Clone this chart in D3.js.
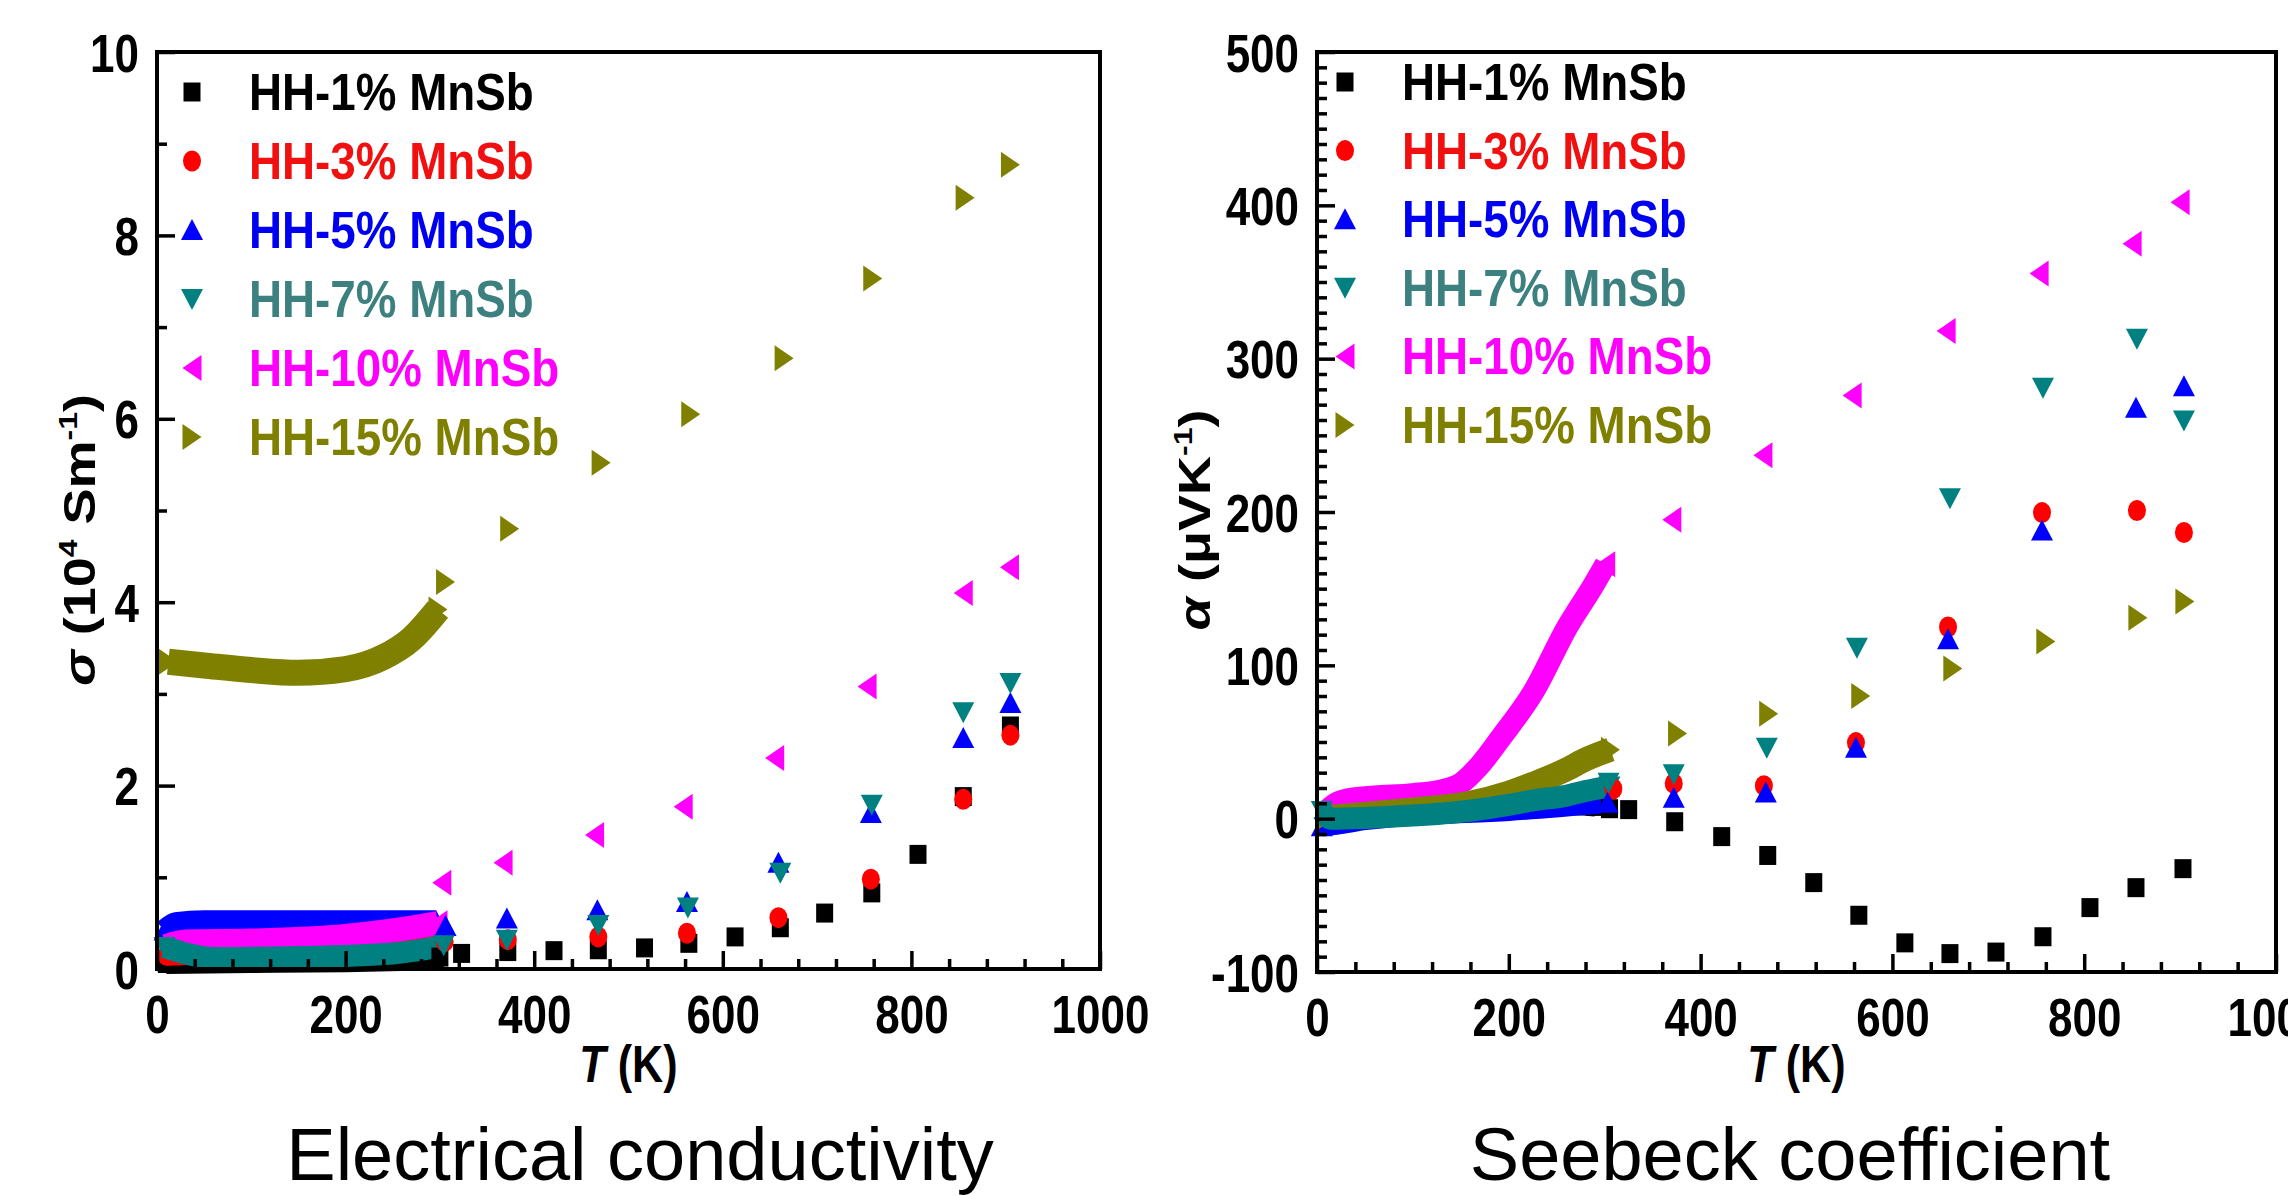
<!DOCTYPE html>
<html>
<head>
<meta charset="utf-8">
<script src="https://cdn.jsdelivr.net/npm/d3@7"></script>
<style>
  body { margin: 0; background: #fff; }
  svg { display: block; }
  text { font-family: "Liberation Sans", Arial, sans-serif; }
</style>
</head>
<body>
<svg width="2288" height="1196"></svg>
<script>
const seriesNames = ['HH-1% MnSb', 'HH-3% MnSb', 'HH-5% MnSb', 'HH-7% MnSb', 'HH-10% MnSb', 'HH-15% MnSb'];
const seriesColors = ['#000000', '#ff0000', '#0000ff', '#008080', '#ff00ff', '#808000'];
const legendTextColors = ['#000000', '#f01010', '#0000f0', '#3d8080', '#ff00ff', '#808000'];
const seriesShapes = ['square', 'circle', 'up', 'down', 'left', 'right'];

const xTicks = [0, 200, 400, 600, 800, 1000];
const sigmaTicks = [0, 2, 4, 6, 8, 10];
const alphaTicks = [-100, 0, 100, 200, 300, 400, 500];

// sigma (10^4 S/m) — high temperature points
const sigma1 = [[300, 0.13], [323, 0.17], [372, 0.19], [421, 0.2], [468, 0.21], [517, 0.23], [564, 0.28], [613, 0.35], [661, 0.45], [708, 0.61], [758, 0.83], [807, 1.25], [855, 1.88], [905, 2.65]];
const sigma3 = [[305, 0.3], [372, 0.32], [468, 0.35], [562, 0.39], [659, 0.56], [757, 0.98], [855, 1.85], [905, 2.55]];
const sigma5 = [[306, 0.47], [371, 0.55], [467, 0.64], [562, 0.73], [659, 1.16], [757, 1.7], [855, 2.52], [905, 2.9]];
const sigma7 = [[304, 0.26], [371, 0.32], [468, 0.48], [563, 0.67], [661, 1.05], [758, 1.79], [855, 2.8], [905, 3.12]];
const sigma10 = [[302, 0.94], [367, 1.16], [464, 1.46], [558, 1.77], [655, 2.3], [753, 3.08], [855, 4.1], [904, 4.38]];
const sigma15 = [[306, 4.22], [374, 4.8], [471, 5.52], [566, 6.05], [665, 6.66], [759, 7.53], [857, 8.41], [905, 8.77]];

// sigma — dense low temperature runs (0-300 K)
const sigmaRun1 = [[10, 0.06], [100, 0.07], [200, 0.08], [295, 0.1]];
const sigmaRun3 = [[10, 0.15], [150, 0.2], [295, 0.27]];
const sigmaRun5 = [[8, 0.42], [20, 0.5], [50, 0.52], [150, 0.52], [250, 0.52], [296, 0.52]];
const sigmaRun10 = [[10, 0.25], [30, 0.3], [100, 0.31], [200, 0.36], [250, 0.42], [298, 0.5]];
const sigmaRun7 = [[8, 0.24], [30, 0.17], [60, 0.12], [150, 0.13], [250, 0.17], [298, 0.24]];
const sigmaRun15 = [[12, 3.35], [50, 3.31], [100, 3.26], [150, 3.23], [200, 3.27], [240, 3.4], [270, 3.6], [298, 3.92]];

// alpha (uV/K) — high temperature points
const alpha1 = [[305, 6.5], [325, 5.9], [373, -2], [422, -11.7], [470, -24], [518, -41.7], [565, -63], [613, -81], [660, -88], [708, -87], [757, -77], [806, -58], [854, -45], [903, -32.6]];
const alpha3 = [[309, 19.5], [372, 23], [466, 21.5], [562, 49.6], [658, 125], [756, 199.6], [855, 201], [904, 186.6]];
const alpha5 = [[303, 10.4], [372, 13.7], [468, 17], [562, 46.3], [658, 117], [756, 188], [854, 268], [904, 282]];
const alpha7 = [[304, 23.5], [372, 29], [469, 46.3], [563, 111.5], [660, 209], [757, 281], [855, 313], [904, 259.6]];
const alpha10 = [[370, 195], [465, 237], [558, 276], [656, 318], [753, 355.5], [850, 375], [900, 402]];
const alpha15 = [[376, 55.6], [471, 68.5], [567, 80], [663, 98], [760, 115.6], [856, 131], [905, 141.6]];

// alpha — dense low temperature runs
const alphaRun1 = [[10, -2], [50, 2], [100, 4], [150, 6], [200, 8], [250, 9], [290, 8]];
const alphaRun3 = [[10, -2], [100, 3], [200, 8], [300, 18]];
const alphaRun5 = [[5, -5], [20, -4], [50, -1], [100, 2], [200, 5], [300, 10]];
const alphaRun10 = [[8, 4], [20, 10], [35, 13], [60, 14.5], [100, 16], [130, 18.5], [150, 23], [170, 35], [192, 53], [226, 83], [261, 125], [289, 153], [301, 166]];
const alphaRun15 = [[10, 1], [50, 3], [100, 6], [157, 10], [200, 17], [226, 23], [260, 32], [278, 38], [306, 45]];
const alphaRun7 = [[5, 5], [15, 0], [50, 0.5], [100, 2], [157, 5], [200, 9], [226, 12], [260, 15], [280, 18], [305, 21]];

const svg = d3.select('svg');
const SX = 0.83; // the figure's tick fonts are squeezed horizontally

function shapePath(s) {
  switch (s) {
    case 'square': return 'M-8.5,-9.5h17v19h-17z';
    case 'circle': return 'M-9,0a9,10.5 0 1,0 18,0a9,10.5 0 1,0 -18,0z';
    case 'up': return 'M0,-11L11,10L-11,10z';
    case 'down': return 'M0,11L11,-10L-11,-10z';
    case 'left': return 'M-9.5,0L9.5,-13L9.5,13z';
    case 'right': return 'M9.5,0L-9.5,-13L-9.5,13z';
  }
}

function panel(o) {
  const g = svg.append('g');
  const x = d3.scaleLinear().domain([0, 1000]).range([o.x0, o.x1]);
  const y = d3.scaleLinear().domain(o.yDomain).range([o.y0, o.y1]);

  // dense runs drawn as thick strokes, in the overlap order of the figure
  const line = d3.line().x(d => x(d[0])).y(d => y(d[1])).curve(d3.curveMonotoneX);
  o.runOrder.forEach(i => {
    const run = o.runs[i];
    g.append('path').datum(run)
      .attr('d', line)
      .attr('fill', 'none')
      .attr('stroke', seriesColors[i])
      .attr('stroke-width', o.bandWidth[i]);
    g.selectAll(null).data([run[0], run[run.length - 1]]).join('path')
      .attr('d', shapePath(seriesShapes[i]))
      .attr('transform', d => `translate(${x(d[0])},${y(d[1])})`)
      .attr('fill', seriesColors[i]);
  });

  o.points.forEach((pts, i) => {
    g.selectAll(null).data(pts).join('path')
      .attr('d', shapePath(seriesShapes[i]))
      .attr('transform', d => `translate(${x(d[0])},${y(d[1])})`)
      .attr('fill', seriesColors[i]);
  });

  // axes: inward ticks
  const fmt = d => String(d);
  const xMinor = d3.range(0, 1001, 40).filter(d => d % 200 !== 0);
  const ax = g.append('g').attr('transform', `translate(0,${o.y0})`);
  ax.append('g').call(d3.axisBottom(x).tickValues(xMinor).tickSize(-10).tickFormat(''));
  ax.append('g').call(d3.axisBottom(x).tickValues(xTicks).tickSize(-18).tickFormat(fmt));
  const ay = g.append('g').attr('transform', `translate(${o.x0},0)`);
  ay.append('g').call(d3.axisLeft(y).tickValues(o.yMinor).tickSize(-10).tickFormat(''));
  ay.append('g').call(d3.axisLeft(y).tickValues(o.yTicks).tickSize(-18).tickFormat(fmt));
  g.selectAll('.domain').remove();
  g.selectAll('.tick line').attr('stroke', '#000').attr('stroke-width', 3.5);
  ax.selectAll('text')
    .attr('y', 64).attr('dy', null)
    .attr('transform', `scale(${SX},1)`)
    .attr('font-size', 53).attr('font-weight', 'bold').attr('fill', '#000');
  ay.selectAll('text')
    .attr('x', -18 / SX).attr('dy', '0.36em')
    .attr('transform', `scale(${SX},1)`)
    .attr('font-size', 53).attr('font-weight', 'bold').attr('fill', '#000');

  g.append('rect')
    .attr('x', o.x0).attr('y', o.y1)
    .attr('width', o.x1 - o.x0).attr('height', o.y0 - o.y1)
    .attr('fill', 'none').attr('stroke', '#000').attr('stroke-width', 4);

  // x title
  const xt = g.append('text')
    .attr('transform', `translate(${(o.x0 + o.x1) / 2},1082) scale(${SX},1)`)
    .attr('text-anchor', 'middle').attr('font-size', 52).attr('font-weight', 'bold');
  xt.append('tspan').attr('font-style', 'italic').text('T');
  xt.append('tspan').text(' (K)');

  // y title
  const yt = g.append('text')
    .attr('transform', `translate(${o.yTitleX},${o.yTitleY}) rotate(-90) scale(1,${SX})`)
    .attr('text-anchor', 'middle').attr('font-size', 54).attr('font-weight', 'bold');
  o.yTitle.forEach(p => {
    const t = yt.append('tspan').text(p.t);
    if (p.italic) t.attr('font-style', 'italic');
    if (p.sup) t.attr('font-size', 32).attr('dy', -22);
    if (p.down) t.attr('dy', 22);
  });

  // legend
  const lg = g.append('g');
  seriesNames.forEach((name, i) => {
    const cy = o.legendY + i * o.legendStep;
    lg.append('path').attr('d', shapePath(seriesShapes[i]))
      .attr('transform', `translate(${o.legendX},${cy})`)
      .attr('fill', seriesColors[i]);
    lg.append('text')
      .attr('transform', `translate(${o.legendX + 57},${cy + 18}) scale(0.88,1)`)
      .attr('font-size', 52).attr('font-weight', 'bold')
      .attr('fill', legendTextColors[i]).text(name);
  });

  // caption
  svg.append('text').attr('x', o.captionX).attr('y', 1180)
    .attr('text-anchor', 'middle').attr('font-size', 74).text(o.caption);
}

panel({
  x0: 157, x1: 1100, y0: 969, y1: 52,
  yDomain: [0, 10], yTicks: sigmaTicks, yMinor: [1, 3, 5, 7, 9],
  points: [sigma1, sigma3, sigma5, sigma7, sigma10, sigma15],
  runs: [sigmaRun1, sigmaRun3, sigmaRun5, sigmaRun7, sigmaRun10, sigmaRun15],
  runOrder: [0, 1, 2, 4, 3, 5],
  bandWidth: [21, 21, 22, 22, 24, 26],
  yTitleX: 95, yTitleY: 540,
  yTitle: [{ t: 'σ', italic: true }, { t: ' (10' }, { t: '4', sup: true }, { t: ' Sm', down: true }, { t: '-1', sup: true }, { t: ')', down: true }],
  legendX: 192, legendY: 92, legendStep: 69,
  captionX: 640, caption: 'Electrical conductivity'
});

panel({
  x0: 1317, x1: 2276, y0: 972, y1: 52,
  yDomain: [-100, 500], yTicks: alphaTicks, yMinor: d3.range(-100, 501, 10).filter(d => d % 100 !== 0),
  points: [alpha1, alpha3, alpha5, alpha7, alpha10, alpha15],
  runs: [alphaRun1, alphaRun3, alphaRun5, alphaRun7, alphaRun10, alphaRun15],
  runOrder: [0, 1, 2, 4, 5, 3],
  bandWidth: [20, 20, 20, 22, 22, 24],
  yTitleX: 1210, yTitleY: 520,
  yTitle: [{ t: 'α', italic: true }, { t: ' (μVK' }, { t: '-1', sup: true }, { t: ')', down: true }],
  legendX: 1345, legendY: 82, legendStep: 68.6,
  captionX: 1790, caption: 'Seebeck coefficient'
});
</script>
</body>
</html>
